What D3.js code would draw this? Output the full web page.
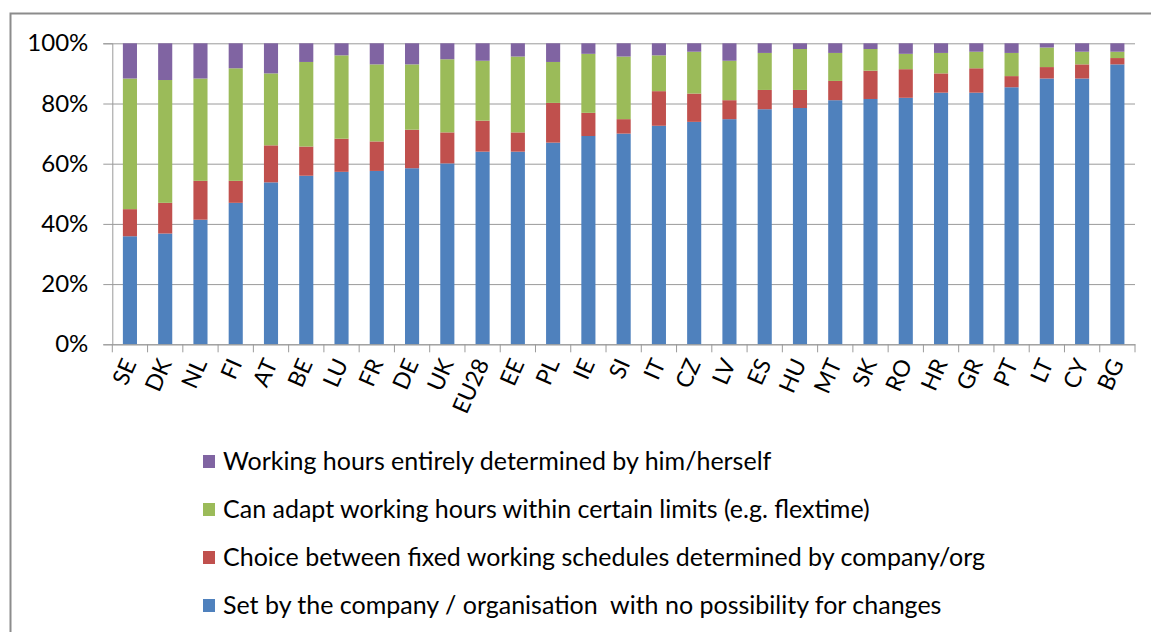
<!DOCTYPE html>
<html>
<head>
<meta charset="utf-8">
<script src="https://cdn.jsdelivr.net/npm/d3@7"></script>
<style>
html,body{margin:0;padding:0;background:#fff;}
svg{display:block;}
text{font-family:Lato,"Open Sans",sans-serif;fill:#000;white-space:pre;}
</style>
</head>
<body>
<svg id="chart" width="1151" height="632"></svg>
<script>
const countries = ["SE","DK","NL","FI","AT","BE","LU","FR","DE","UK","EU28","EE","PL","IE","SI","IT","CZ","LV","ES","HU","MT","SK","RO","HR","GR","PT","LT","CY","BG"];
const setByCompany = [35.9,36.8,41.4,47.0,53.8,56.0,57.3,57.6,58.5,60.1,64.0,64.0,67.0,69.2,70.0,72.6,73.9,74.8,78.1,78.5,81.1,81.5,81.9,83.6,83.6,85.4,88.3,88.3,93.0];
const choiceFixed  = [9.0,10.2,12.9,7.3,12.3,9.7,11.0,9.8,12.8,10.3,10.3,6.4,13.2,7.7,4.8,11.5,9.4,6.3,6.4,6.0,6.4,9.4,9.5,6.4,8.1,3.7,3.8,4.7,2.1];
const canAdapt     = [43.4,40.8,34.0,37.4,23.9,28.1,27.7,25.6,21.7,24.3,19.9,25.2,13.6,19.6,20.8,11.9,13.9,13.1,12.3,13.6,9.3,7.2,5.1,6.8,5.5,7.7,6.5,4.2,2.1];
const entirelySelf = [11.7,12.2,11.7,8.3,10.0,6.2,4.0,7.0,7.0,5.3,5.8,4.4,6.2,3.5,4.4,4.0,2.8,5.8,3.2,1.9,3.2,1.9,3.5,3.2,2.8,3.2,1.4,2.8,2.8];
const yTicks = [0,20,40,60,80,100];
const seriesNames = [
  "Set by the company / organisation  with no possibility for changes",
  "Choice between fixed working schedules determined by company/org",
  "Can adapt working hours within certain limits (e.g. flextime)",
  "Working hours entirely determined by him/herself"
];
const seriesKeys = ["set","choice","adapt","self"];
const colors = ["#4F81BD","#C0504D","#9BBB59","#8064A2"];

const rows = countries.map((c,i)=>({country:c,set:setByCompany[i],choice:choiceFixed[i],adapt:canAdapt[i],self:entirelySelf[i]}));
const stacked = d3.stack().keys(seriesKeys)(rows);

const svg = d3.select("#chart");
const pLeft = 112.3, pRight = 1135, pTop = 43.3, pBottom = 344.3;

// frame
svg.append("path").attr("d", `M10.5,632 L10.5,13.5 L1151,13.5`).attr("fill","none").attr("stroke","#8c8c8c").attr("stroke-width",2);

const x = d3.scaleBand().domain(countries).range([pLeft,pRight]).paddingInner(0.6).paddingOuter(0.3);
const xb = d3.scaleBand().domain(countries).range([pLeft,pRight]);
const y = d3.scaleLinear().domain([0,100]).range([pBottom,pTop]);

// gridlines + y axis
const yAxis = d3.axisLeft(y).tickValues(yTicks).tickFormat(d=>d+"%").tickSize(9).tickPadding(15);
const gy = svg.append("g").attr("transform",`translate(${pLeft},0)`).call(yAxis);
gy.select(".domain").attr("stroke","#9a9a9a");
gy.selectAll(".tick line").attr("stroke","#9a9a9a").attr("x2", pRight-pLeft).attr("x1",-9);
gy.selectAll(".tick text").attr("font-size",24).attr("font-family","Lato, sans-serif").attr("fill","#000");

// bars
svg.append("g").selectAll("g").data(stacked).join("g")
  .attr("fill",(d,i)=>colors[i])
  .selectAll("rect").data(d=>d).join("rect")
  .attr("x",d=>x(d.data.country))
  .attr("width",x.bandwidth())
  .attr("y",d=>y(d[1]))
  .attr("height",d=>y(d[0])-y(d[1]));

// x axis
const xAxis = d3.axisBottom(xb).tickSize(0).tickFormat("");
const gx = svg.append("g").attr("transform",`translate(0,${pBottom})`).call(xAxis);
gx.select(".domain").attr("stroke","#9a9a9a");
svg.append("g").selectAll("line").data(countries.concat(["_end"])).join("line")
  .attr("x1",(d,i)=> i<countries.length ? xb(d) : pRight)
  .attr("x2",(d,i)=> i<countries.length ? xb(d) : pRight)
  .attr("y1",pBottom).attr("y2",pBottom+8)
  .attr("stroke","#9a9a9a");
svg.append("g").selectAll("text").data(countries).join("text")
  .attr("transform",d=>`translate(${xb(d)+xb.bandwidth()/2+7},${pBottom+19}) rotate(-66)`)
  .attr("text-anchor","end")
  .attr("font-size",23)
  .text(d=>d);

// legend
const legendOrder = [3,2,1,0];
const lg = svg.append("g");
legendOrder.forEach((si,k)=>{
  const yy = 461 + k*48;
  lg.append("rect").attr("x",203).attr("y",yy-6).attr("width",12).attr("height",13).attr("fill",colors[si]);
  lg.append("text").attr("x",223).attr("y",yy).attr("dy","0.36em").attr("font-size",25).text(seriesNames[si]);
});
</script>
</body>
</html>
